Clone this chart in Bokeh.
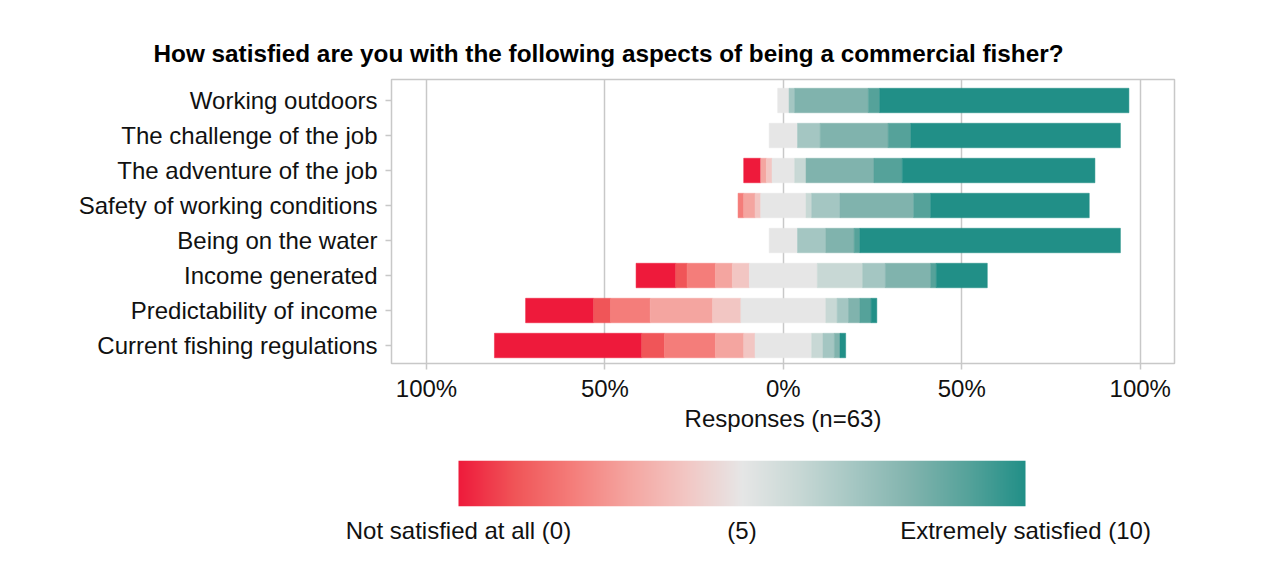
import numpy as np
from bokeh.plotting import figure
from bokeh.models import Range1d, FixedTicker, ColumnDataSource
from bokeh.layouts import column
from bokeh.embed import file_html
from bokeh.resources import INLINE

# ---------------- data ----------------
title_text = "How satisfied are you with the following aspects of being a commercial fisher?"
aspects = ["Working outdoors", "The challenge of the job", "The adventure of the job",
           "Safety of working conditions", "Being on the water", "Income generated",
           "Predictability of income", "Current fishing regulations"]
n_responses = 63
levels = list(range(11))  # satisfaction score 0..10

# number of respondents choosing each score 0..10
working_outdoors = [0, 0, 0, 0, 0, 2, 0, 1, 13, 2, 44]
challenge_of_job = [0, 0, 0, 0, 0, 5, 0, 4, 12, 4, 37]
adventure_of_job = [3, 0, 0, 1, 1, 4, 2, 0, 12, 5, 34]
safety_conditions = [0, 0, 1, 2, 1, 8, 1, 5, 13, 3, 28]
being_on_water = [0, 0, 0, 0, 0, 5, 0, 5, 5, 1, 46]
income_generated = [7, 2, 5, 3, 3, 12, 8, 4, 8, 1, 9]
predictability_income = [12, 3, 7, 11, 5, 15, 2, 2, 2, 2, 1]
fishing_regulations = [26, 4, 9, 5, 2, 10, 2, 2, 1, 0, 1]

level_colors = ["#EE1A3B", "#F05558", "#F47D7A", "#F4A5A0", "#F2C6C3", "#E6E6E6",
                "#C8D8D5", "#A4C6C2", "#80B3AD", "#55A29A", "#218F87"]
tick_values = [-100, -50, 0, 50, 100]
tick_labels = ["100%", "50%", "0%", "50%", "100%"]
axis_title = "Responses (n=63)"
legend_labels = ["Not satisfied at all (0)", "(5)", "Extremely satisfied (10)"]
legend_positions = [0, 5, 10]

all_counts = [working_outdoors, challenge_of_job, adventure_of_job, safety_conditions,
              being_on_water, income_generated, predictability_income, fishing_regulations]

FONT = "Liberation Sans"
GRAY = "#c8c8c8"
TXT = "#111111"
FS = "24px"

# ---------------- build bar segments ----------------
ys, lefts, rights, cols = [], [], [], []
n_rows = len(aspects)
for i, counts in enumerate(all_counts):
    pct = np.array(counts, dtype=float) / n_responses * 100
    start = -(pct[:5].sum() + pct[5] / 2)
    y = n_rows - i
    for lv in levels:
        if pct[lv] <= 0:
            continue
        ys.append(y)
        lefts.append(start)
        rights.append(start + pct[lv])
        cols.append(level_colors[lv])
        start += pct[lv]
src = ColumnDataSource(dict(y=ys, left=lefts, right=rights, color=cols))

p = figure(width=1280, height=448, output_backend="svg", toolbar_location=None,
           x_range=Range1d(-109.8, 109.6), y_range=Range1d(0.486, n_rows + 0.6),
           min_border_left=391, min_border_right=106, min_border_top=79, min_border_bottom=85)
p.hbar(y="y", left="left", right="right", height=0.7, color="color", line_color="color",
       line_width=0.5, source=src)

p.title.text = title_text
p.title.align = "left"
p.title.offset = -238
p.title.text_font = FONT
p.title.text_font_size = "24.3px"
p.title.text_font_style = "bold"
p.title.text_color = "#000000"
p.title.standoff = 25

p.outline_line_color = GRAY
p.outline_line_width = 1.5
p.background_fill_color = "white"
p.border_fill_color = "white"

p.ygrid.visible = False
p.xgrid.ticker = FixedTicker(ticks=tick_values)
p.xgrid.grid_line_color = GRAY
p.xgrid.grid_line_width = 1.5

p.xaxis.ticker = FixedTicker(ticks=tick_values)
p.xaxis.major_label_overrides = {v: l for v, l in zip(tick_values, tick_labels)}
p.yaxis.ticker = FixedTicker(ticks=[n_rows - i for i in range(n_rows)])
p.yaxis.major_label_overrides = {n_rows - i: a for i, a in enumerate(aspects)}
for ax in (p.xaxis, p.yaxis):
    ax.axis_line_color = None
    ax.major_tick_line_color = GRAY
    ax.major_tick_line_width = 1.5
    ax.major_tick_out = 6
    ax.major_tick_in = 0
    ax.minor_tick_line_color = None
    ax.major_label_text_font = FONT
    ax.major_label_text_font_size = FS
    ax.major_label_text_color = TXT
p.yaxis.major_label_standoff = 8
p.xaxis.major_label_standoff = 5
p.xaxis.axis_label = axis_title
p.xaxis.axis_label_text_font = FONT
p.xaxis.axis_label_text_font_size = FS
p.xaxis.axis_label_text_font_style = "normal"
p.xaxis.axis_label_text_color = TXT
p.xaxis.axis_label_standoff = 0

# ---------------- gradient legend ----------------
def hex2rgb(h):
    return np.array([int(h[k:k + 2], 16) for k in (1, 3, 5)], dtype=float)

rgb_levels = [hex2rgb(c) for c in level_colors]
npx = 567
img = np.zeros((1, npx), dtype=np.uint32)
view = img.view(dtype=np.uint8).reshape((1, npx, 4))
for k in range(npx):
    xm = (k + 0.5) / npx * 10
    j = min(int(xm), 9)
    t = xm - j
    c = rgb_levels[j] * (1 - t) + rgb_levels[j + 1] * t
    view[0, k, 0:3] = np.round(c).astype(np.uint8)
    view[0, k, 3] = 255

# legend frame is aligned to main frame (page x 391..1174); level 0..10 spans page x 458..1025
px_per_level = 56.7
lg = figure(width=1280, height=118, output_backend="svg", toolbar_location=None,
            x_range=Range1d(-(458 - 391) / px_per_level, 10 + (1174 - 1025) / px_per_level),
            y_range=Range1d(0, 1), y_axis_type=None,
            min_border_top=12, min_border_bottom=60, min_border_left=0, min_border_right=0)
lg.image_rgba(image=[img], x=0, y=0, dw=10, dh=1)
lg.xaxis.ticker = FixedTicker(ticks=legend_positions)
lg.xaxis.major_label_overrides = {v: l for v, l in zip(legend_positions, legend_labels)}
lg.xaxis.axis_line_color = None
lg.xaxis.major_tick_line_color = None
lg.xaxis.minor_tick_line_color = None
lg.xaxis.major_tick_out = 0
lg.xaxis.major_tick_in = 0
lg.xaxis.major_label_standoff = 10
lg.xaxis.major_label_text_font = FONT
lg.xaxis.major_label_text_font_size = FS
lg.xaxis.major_label_text_color = TXT
lg.grid.visible = False
lg.outline_line_color = None
lg.border_fill_color = "white"
lg.background_fill_color = "white"

layout = column(p, lg, spacing=0)
open("out.html", "w").write(file_html(layout, INLINE))
